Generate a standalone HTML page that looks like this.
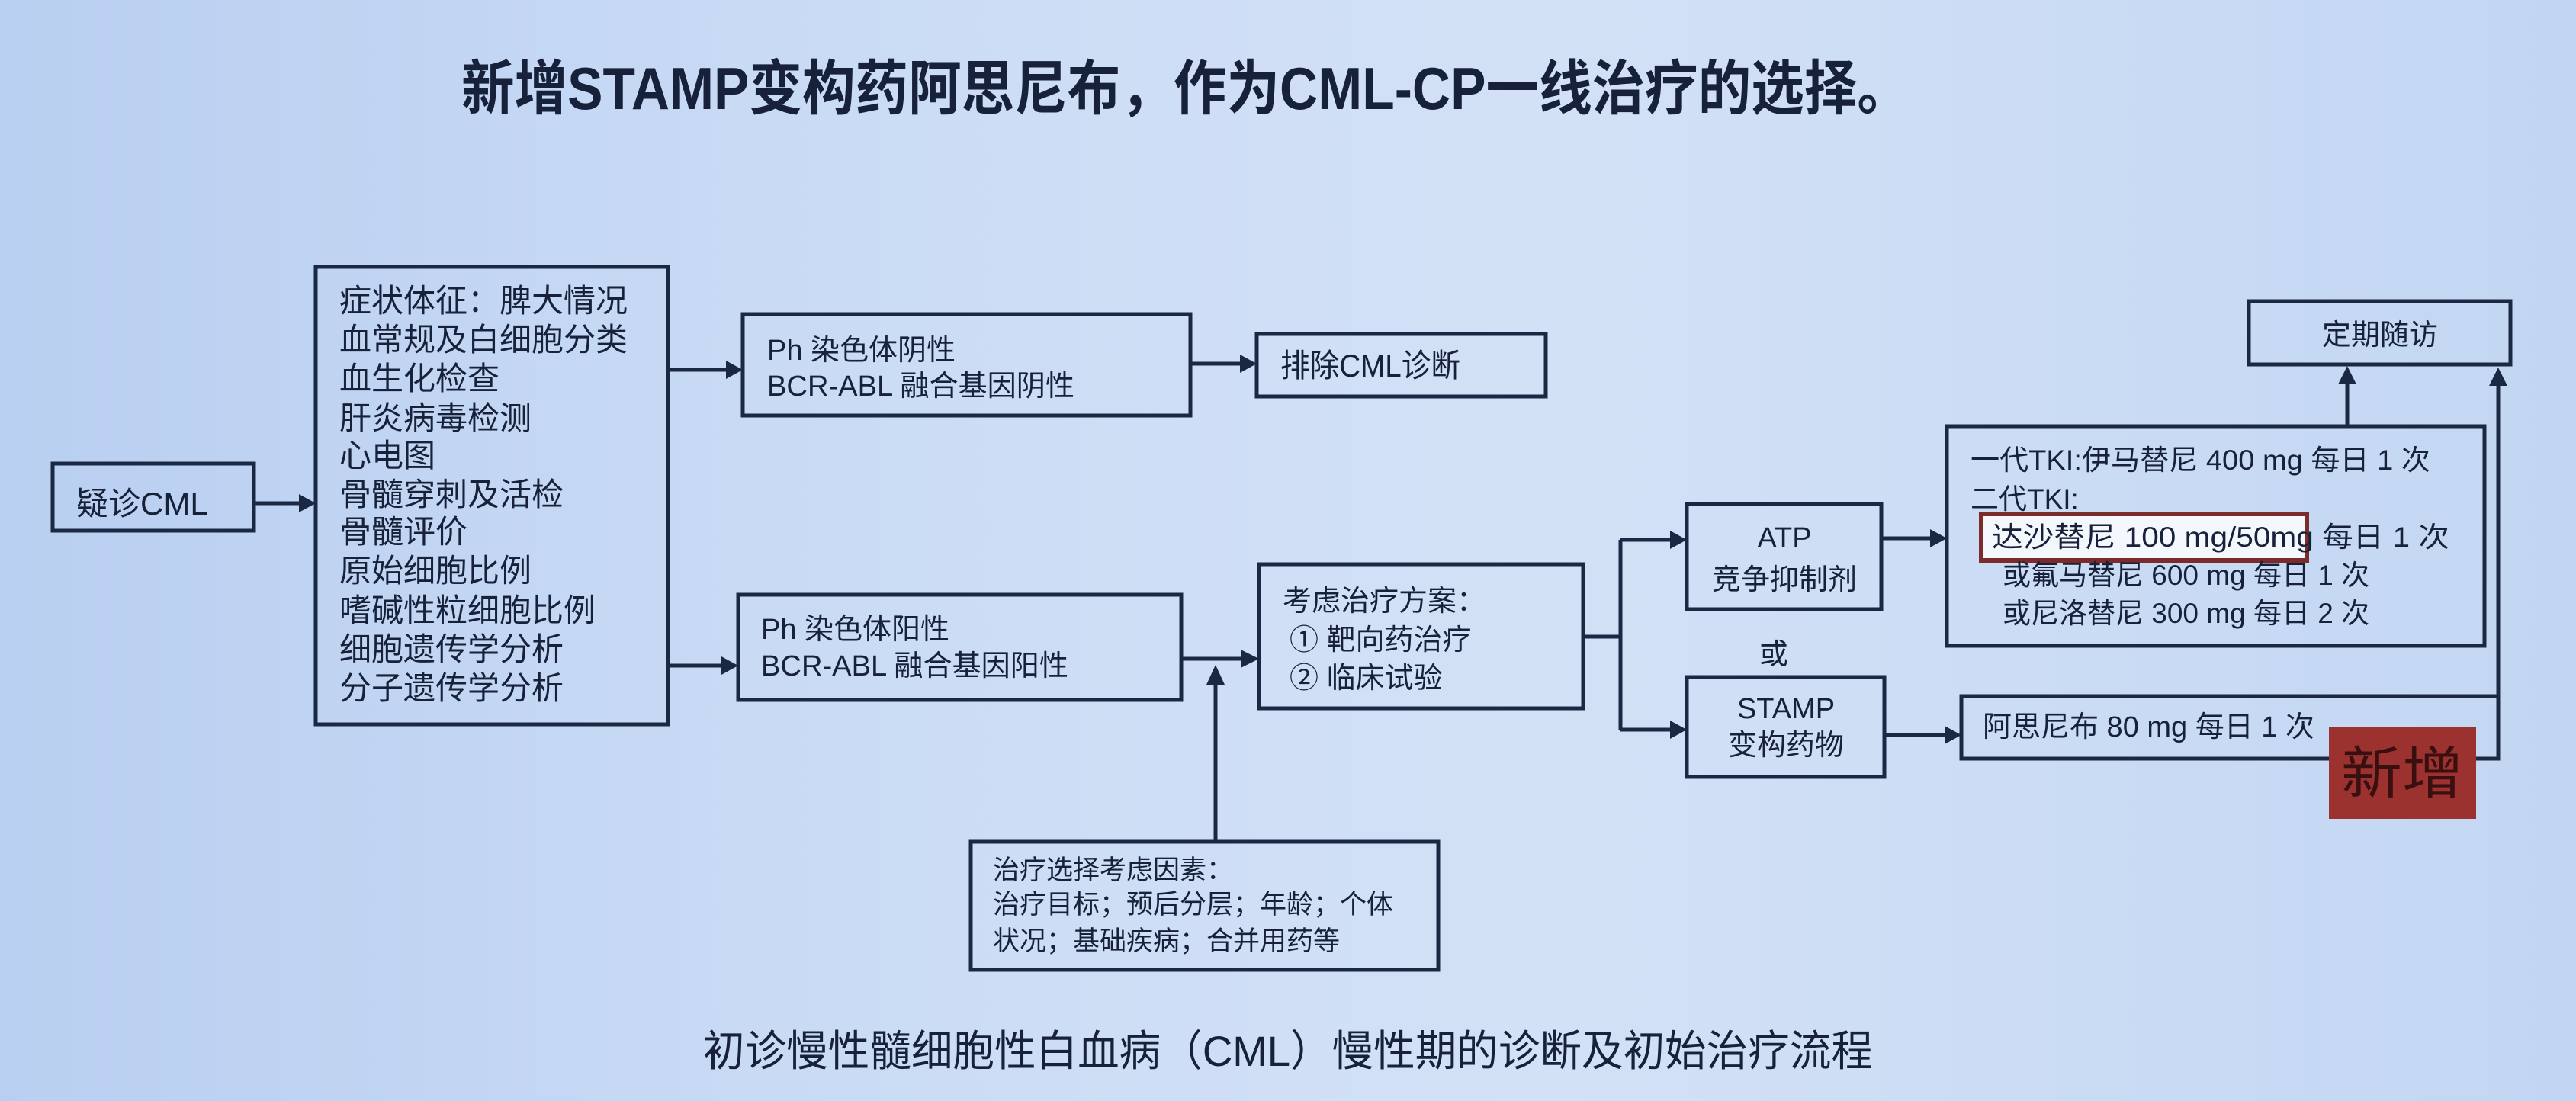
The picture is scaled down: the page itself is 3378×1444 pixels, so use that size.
<!DOCTYPE html>
<html><head><meta charset="utf-8"><style>
html,body{margin:0;padding:0;}
body{width:3378px;height:1444px;overflow:hidden;background:linear-gradient(90deg,#b9cff1 0%,#cbdcf5 35%,#d3e1f6 60%,#c2d6f3 100%);}
svg{display:block}
text{font-family:"Liberation Sans","Noto Sans CJK SC",sans-serif;fill:#17223a;}
</style></head><body>
<svg width="3378" height="1444" viewBox="0 0 3378 1444" xmlns="http://www.w3.org/2000/svg">
<defs>
<marker id="a" markerWidth="10" markerHeight="10" refX="9" refY="5" orient="auto" markerUnits="userSpaceOnUse" viewBox="0 0 10 10"></marker>
</defs>
<g fill="none" stroke="#1b2843" stroke-width="5">
<rect x="69" y="608" width="264" height="88"/>
<rect x="414" y="350" width="462" height="600"/>
<rect x="974" y="412" width="587" height="133"/>
<rect x="968" y="780" width="581" height="138"/>
<rect x="1648" y="438" width="379" height="82"/>
<rect x="1651" y="740" width="425" height="189"/>
<rect x="1273" y="1104" width="613" height="168"/>
<rect x="2212" y="661" width="255" height="138"/>
<rect x="2212" y="888" width="259" height="131"/>
<rect x="2553" y="559" width="705" height="288"/>
<rect x="2572" y="913" width="704" height="82"/>
<rect x="2949" y="395" width="343" height="83"/>
<!-- connectors -->
<path d="M333 660 H395"/>
<path d="M876 485 H955"/>
<path d="M876 873 H950"/>
<path d="M1561 477 H1630"/>
<path d="M1549 864 H1630"/>
<path d="M1594 1104 V895"/>
<path d="M2076 835 H2125 M2125 708 V957 M2125 708 H2195 M2125 957 H2195"/>
<path d="M2467 706 H2535"/>
<path d="M2471 964 H2553"/>
<path d="M3078 559 V500"/>
<path d="M3276 995 V500"/>
</g>
<g fill="#1b2843">
<polygon points="414,660 392,648 392,672"/>
<polygon points="974,485 952,473 952,497"/>
<polygon points="968,873 946,861 946,885"/>
<polygon points="1648,477 1626,465 1626,489"/>
<polygon points="1651,864 1627,852 1627,876"/>
<polygon points="1594,872 1582,898 1606,898"/>
<polygon points="2212,708 2190,696 2190,720"/>
<polygon points="2212,957 2190,945 2190,969"/>
<polygon points="2553,706 2531,694 2531,718"/>
<polygon points="2572,964 2550,952 2550,976"/>
<polygon points="3078,480 3066,504 3090,504"/>
<polygon points="3276,482 3264,506 3288,506"/>
</g>
<!-- highlight -->
<rect x="2598" y="674" width="427" height="61" fill="#f4f7fc" stroke="#7a2b2a" stroke-width="6"/>
<!-- 新增 -->
<rect x="3054" y="953" width="193" height="121" fill="#9c3230"/>
<text x="3150" y="1040" font-size="74" text-anchor="middle" style="fill:#3a0f10" textLength="160" lengthAdjust="spacingAndGlyphs">新增</text>
<!-- title -->
<text x="605" y="143" font-size="78" font-weight="bold" textLength="1900" lengthAdjust="spacingAndGlyphs">新增STAMP变构药阿思尼布，作为CML-CP一线治疗的选择。</text>
<!-- caption -->
<text x="922" y="1398" font-size="56" textLength="1534" lengthAdjust="spacingAndGlyphs">初诊慢性髓细胞性白血病（CML）慢性期的诊断及初始治疗流程</text>
<text x="100" y="675" font-size="42">疑诊CML</text>
<g font-size="42">
<text x="445" y="409">症状体征：脾大情况</text>
<text x="445" y="460">血常规及白细胞分类</text>
<text x="445" y="511">血生化检查</text>
<text x="445" y="563">肝炎病毒检测</text>
<text x="445" y="612">心电图</text>
<text x="445" y="663">骨髓穿刺及活检</text>
<text x="445" y="712">骨髓评价</text>
<text x="445" y="763">原始细胞比例</text>
<text x="445" y="815">嗜碱性粒细胞比例</text>
<text x="445" y="866">细胞遗传学分析</text>
<text x="445" y="917">分子遗传学分析</text>
</g>
<g font-size="38">
<text x="1006" y="472">Ph 染色体阴性</text>
<text x="1006" y="519" textLength="403" lengthAdjust="spacingAndGlyphs">BCR-ABL 融合基因阴性</text>
<text x="998" y="838">Ph 染色体阳性</text>
<text x="998" y="886" textLength="403" lengthAdjust="spacingAndGlyphs">BCR-ABL 融合基因阳性</text>
<text x="1679" y="494" font-size="42" textLength="236" lengthAdjust="spacingAndGlyphs">排除CML诊断</text>
<text x="1682" y="801">考虑治疗方案：</text>
<text x="1691" y="852">① 靶向药治疗</text>
<text x="1691" y="902">② 临床试验</text>
<text x="2340" y="718" text-anchor="middle">ATP</text>
<text x="2340" y="773" text-anchor="middle">竞争抑制剂</text>
<text x="2326" y="871" text-anchor="middle">或</text>
<text x="2342" y="942" text-anchor="middle">STAMP</text>
<text x="2342" y="990" text-anchor="middle">变构药物</text>
<text x="3121" y="452" text-anchor="middle">定期随访</text>
<text x="2600" y="966">阿思尼布 80 mg 每日 1 次</text>
</g>
<g font-size="37">
<text x="2584" y="616" textLength="603" lengthAdjust="spacingAndGlyphs">一代TKI:伊马替尼 400 mg 每日 1 次</text>
<text x="2584" y="667">二代TKI:</text>
<text x="2612" y="717" textLength="600" lengthAdjust="spacingAndGlyphs">达沙替尼 100 mg/50mg  每日 1 次</text>
<text x="2626" y="767">或氟马替尼 600 mg 每日 1 次</text>
<text x="2626" y="817">或尼洛替尼 300 mg 每日 2 次</text>
</g>
<g font-size="35">
<text x="1302" y="1153">治疗选择考虑因素：</text>
<text x="1302" y="1198">治疗目标；预后分层；年龄；个体</text>
<text x="1302" y="1246">状况；基础疾病；合并用药等</text>
</g>
</svg>
</body></html>
